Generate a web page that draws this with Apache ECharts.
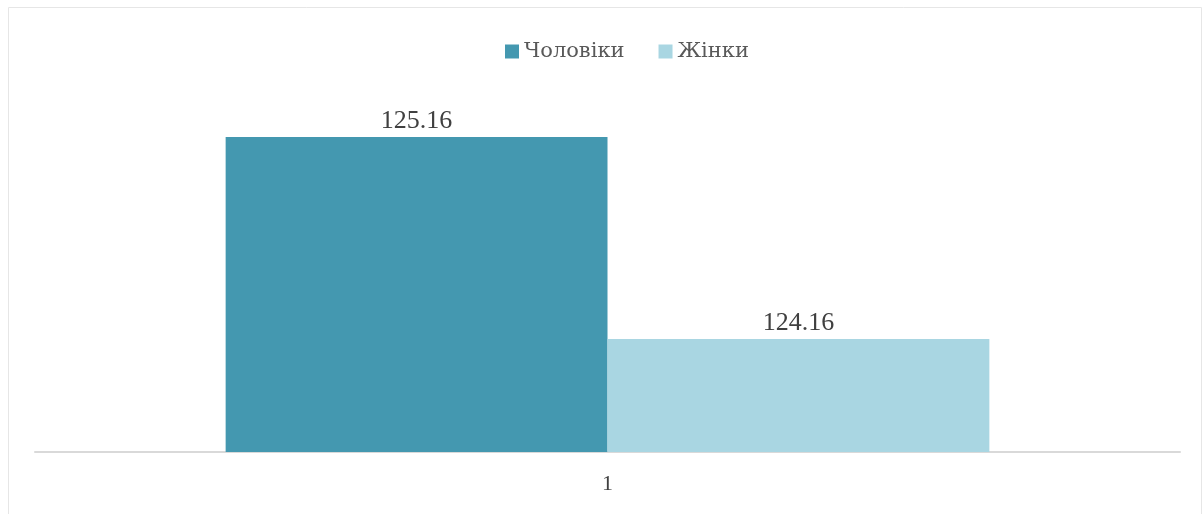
<!DOCTYPE html>
<html>
<head>
<meta charset="utf-8">
<script src="https://cdn.jsdelivr.net/npm/echarts@6/dist/echarts.min.js"></script>
<style>
html,body{margin:0;padding:0;background:#fff;}
#c{width:1203px;height:514px;}
</style>
</head>
<body>
<div id="c"></div>
<script>
const categories = ['1'];
const seriesNames = ['Чоловіки', 'Жінки'];
const menValues = [125.16];
const womenValues = [124.16];

const chart = echarts.init(document.getElementById('c'));
const font = 'Liberation Serif, Times New Roman, serif';
chart.setOption({
  animation: false,
  backgroundColor: '#fff',
  graphic: [{
    type: 'rect',
    shape: {x: 8.5, y: 7.5, width: 1193, height: 520},
    style: {fill: 'none', stroke: '#e6e6e6', lineWidth: 1},
    silent: true
  }],
  legend: {
    top: 36,
    left: 500,
    itemWidth: 14,
    itemHeight: 14,
    itemGap: 34,
    icon: 'rect',
    textStyle: {fontFamily: 'DejaVu Serif, serif', fontSize: 21, color: '#595959'},
    data: seriesNames
  },
  grid: {left: 35, right: 23, top: 88.4, bottom: 62, containLabel: false},
  xAxis: {
    type: 'category',
    data: categories,
    axisLine: {lineStyle: {color: '#d9d9d9', width: 2}},
    axisTick: {show: false},
    axisLabel: {fontFamily: font, fontSize: 22, color: '#404040', margin: 21}
  },
  yAxis: {
    type: 'value',
    min: 123.6,
    max: 125.4,
    show: false,
    splitLine: {show: false}
  },
  series: [
    {
      name: seriesNames[0], type: 'bar', data: menValues,
      itemStyle: {color: '#4498B0'},
      barGap: '0%', barCategoryGap: '33.3%',
      label: {show: true, position: 'top', distance: 3, fontFamily: font, fontSize: 26, color: '#404040'}
    },
    {
      name: seriesNames[1], type: 'bar', data: womenValues,
      itemStyle: {color: '#A9D6E2'},
      barGap: '0%', barCategoryGap: '33.3%',
      label: {show: true, position: 'top', distance: 3, fontFamily: font, fontSize: 26, color: '#404040'}
    }
  ]
});
</script>
</body>
</html>
